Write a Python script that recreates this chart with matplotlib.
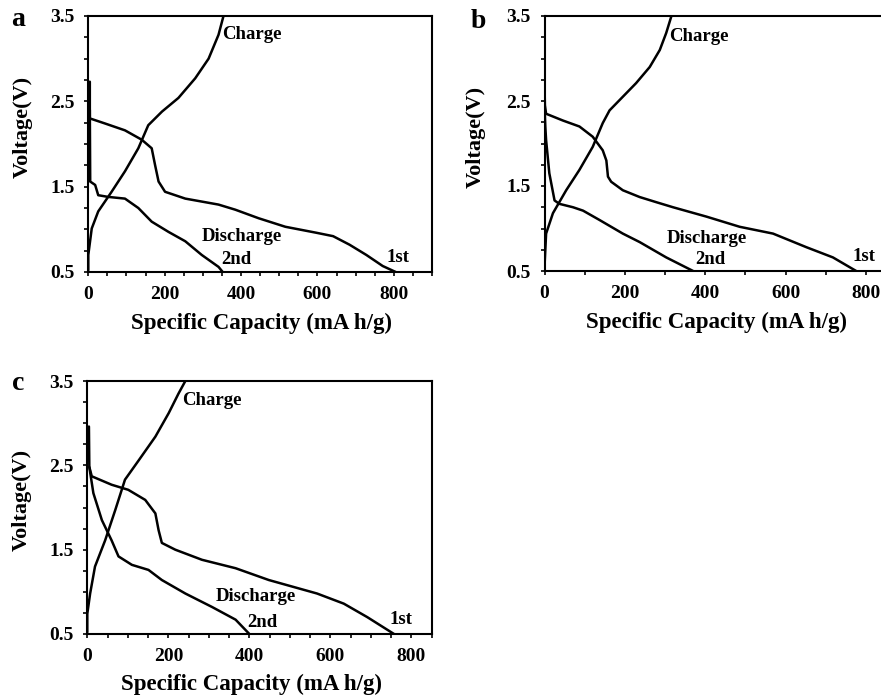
import matplotlib
matplotlib.use("Agg")
import matplotlib.pyplot as plt
from matplotlib.ticker import MultipleLocator

plt.rcParams["font.family"] = ["Liberation Serif", "DejaVu Serif"]
plt.rcParams["font.weight"] = "bold"

# ---- panel a ----
charge_a_x = [0, 0, 9, 26, 61, 96, 131, 157, 193, 236, 280, 315, 341, 354]
charge_a_y = [0.52, 0.70, 1.01, 1.21, 1.44, 1.68, 1.95, 2.22, 2.38, 2.54, 2.77, 3.00, 3.28, 3.50]
dis1_a_x = [4, 4, 44, 96, 140, 166, 175, 184, 201, 254, 341, 385, 446, 516, 597, 641, 684, 728, 771, 805]
dis1_a_y = [2.73, 2.30, 2.24, 2.16, 2.05, 1.95, 1.75, 1.56, 1.44, 1.36, 1.29, 1.23, 1.13, 1.03, 0.96, 0.92, 0.82, 0.70, 0.57, 0.50]
dis2_a_x = [4, 5, 18, 26, 52, 96, 131, 166, 210, 254, 297, 341, 352]
dis2_a_y = [2.40, 1.56, 1.52, 1.40, 1.38, 1.36, 1.25, 1.09, 0.97, 0.86, 0.70, 0.56, 0.50]

# ---- panel b ----
charge_b_x = [0, 4, 21, 54, 87, 120, 145, 162, 195, 228, 262, 287, 303, 316]
charge_b_y = [0.55, 0.94, 1.18, 1.45, 1.69, 1.96, 2.24, 2.39, 2.55, 2.71, 2.90, 3.10, 3.30, 3.50]
dis1_b_x = [0, 1, 4, 46, 87, 120, 145, 154, 158, 166, 195, 237, 278, 320, 403, 486, 569, 652, 718, 776]
dis1_b_y = [2.72, 2.45, 2.35, 2.27, 2.20, 2.08, 1.92, 1.80, 1.61, 1.55, 1.45, 1.37, 1.31, 1.25, 1.14, 1.02, 0.94, 0.78, 0.66, 0.50]
dis2_b_x = [0, 2, 4, 12, 25, 37, 71, 96, 137, 195, 237, 303, 370]
dis2_b_y = [2.45, 2.20, 2.04, 1.65, 1.33, 1.29, 1.25, 1.21, 1.10, 0.94, 0.84, 0.66, 0.50]

# ---- panel c ----
charge_c_x = [0, 0, 7, 19, 44, 69, 93, 127, 168, 201, 225, 242]
charge_c_y = [0.52, 0.74, 0.98, 1.30, 1.61, 1.97, 2.33, 2.56, 2.84, 3.12, 3.35, 3.50]
dis1_c_x = [4, 5, 11, 60, 101, 143, 168, 176, 184, 217, 283, 366, 448, 567, 633, 691, 757]
dis1_c_y = [2.96, 2.48, 2.37, 2.27, 2.21, 2.09, 1.93, 1.73, 1.58, 1.50, 1.38, 1.28, 1.14, 0.98, 0.86, 0.70, 0.50]
dis2_c_x = [5, 15, 36, 60, 77, 110, 151, 184, 242, 308, 366, 400]
dis2_c_y = [2.48, 2.17, 1.85, 1.61, 1.42, 1.32, 1.26, 1.14, 0.98, 0.82, 0.67, 0.50]

xticks = [0, 200, 400, 600, 800]
yticks = [0.5, 1.5, 2.5, 3.5]

W, H = 881, 699
fig = plt.figure(figsize=(W / 100, H / 100), dpi=100)


def px_axes(left, top, right, bottom):
    return fig.add_axes([left / W, 1 - bottom / H, (right - left) / W, (bottom - top) / H])


panels = [
    dict(letter="a", rect=(88.3, 16, 432.0, 272), xmax=900, xminor=50,
         curves=[(charge_a_x, charge_a_y), (dis1_a_x, dis1_a_y), (dis2_a_x, dis2_a_y)],
         labels=[("Charge", 351, 3.28, "left"), ("Discharge", 403, 0.92, "center"),
                 ("2nd", 347, 0.65, "left"), ("1st", 780, 0.67, "left")],
         letter_xy=(18, 19), ylab_y=0.565, xlab_x=0.504),
    dict(letter="b", rect=(544.5, 16, 906.0, 271), xmax=900, xminor=100,
         curves=[(charge_b_x, charge_b_y), (dis1_b_x, dis1_b_y), (dis2_b_x, dis2_b_y)],
         labels=[("Charge", 310, 3.26, "left"), ("Discharge", 403, 0.88, "center"),
                 ("2nd", 375, 0.63, "left"), ("1st", 766, 0.67, "left")],
         letter_xy=(478, 22), ylab_y=0.527, xlab_x=0.475),
    dict(letter="c", rect=(87.3, 381, 431.7, 634), xmax=850, xminor=50,
         curves=[(charge_c_x, charge_c_y), (dis1_c_x, dis1_c_y), (dis2_c_x, dis2_c_y)],
         labels=[("Charge", 233, 3.27, "left"), ("Discharge", 417, 0.94, "center"),
                 ("2nd", 394, 0.64, "left"), ("1st", 745, 0.67, "left")],
         letter_xy=(18, 384), ylab_y=0.53, xlab_x=0.477),
]

for p in panels:
    ax = px_axes(*p["rect"])
    for xs, ys in p["curves"]:
        ax.plot(xs, ys, color="black", lw=1.8, solid_joinstyle="round",
                solid_capstyle="round")
    for txt, x, y, ha in p["labels"]:
        ax.text(x, y, txt, ha=ha, va="center", fontsize=13.5, fontweight="bold")
    ax.set_xlim(0, p["xmax"])
    ax.set_ylim(0.5, 3.5)
    ax.set_xticks(xticks)
    ax.set_yticks(yticks)
    ax.set_yticklabels([f"{v:.1f}" for v in yticks])
    ax.xaxis.set_minor_locator(MultipleLocator(p["xminor"]))
    ax.yaxis.set_minor_locator(MultipleLocator(0.25))
    ax.tick_params(which="both", direction="out", length=3, width=1.2, pad=7)
    ax.tick_params(which="major", labelsize=14)
    for s in ax.spines.values():
        s.set_linewidth(1.5)
    ax.set_xlabel("Specific Capacity (mA h/g)", fontsize=16.5, fontweight="bold")
    ax.set_ylabel("Voltage(V)", fontsize=16, fontweight="bold")
    ax.xaxis.label.set_va("center")
    ax.yaxis.label.set_va("center")
    ax.xaxis.set_label_coords(p["xlab_x"], -0.2)
    ax.yaxis.set_label_coords(-0.19, p["ylab_y"])
    lx, ly = p["letter_xy"]
    fig.text(lx / W, 1 - ly / H, p["letter"], fontsize=20, fontweight="bold",
             ha="center", va="center")

fig.savefig("out.png", dpi=100, facecolor="white")
